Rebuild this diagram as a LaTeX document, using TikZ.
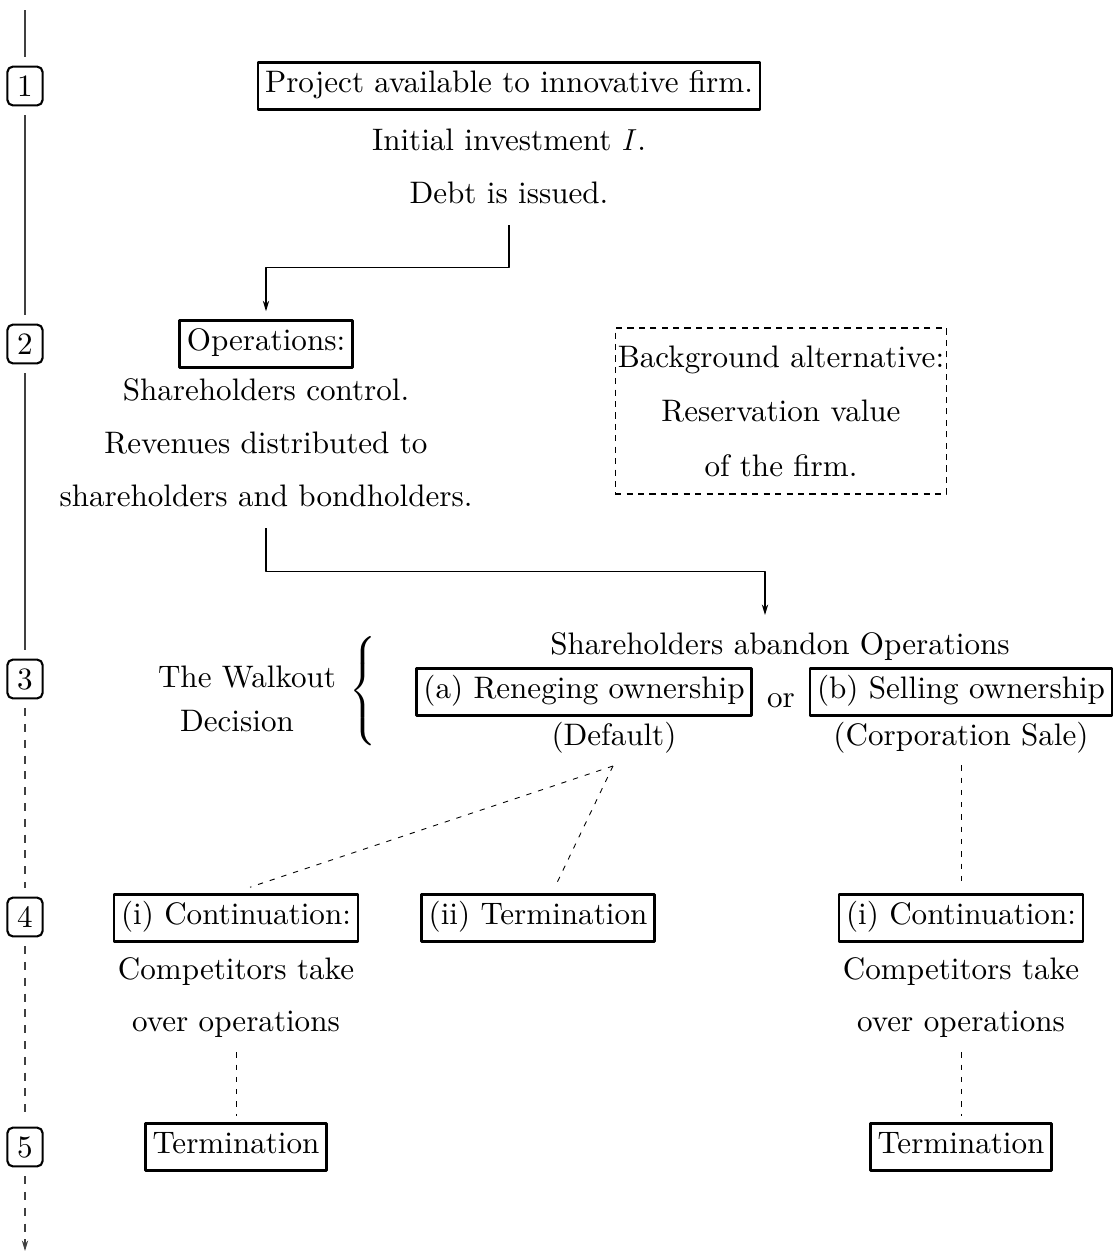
\documentclass[tikz,border=0pt]{standalone}
\usepackage{fontspec}
\setmainfont{lmroman10-regular}[Extension=.otf]
\usepackage{exscale}
\usetikzlibrary{arrows.meta}
\tikzset{
  box/.style={draw, line width=1.5pt, inner xsep=4pt, inner ysep=4.8pt, text height=12.3pt, text depth=5pt, yshift=-1.2pt},
  txt/.style={inner sep=0pt, text height=12.3pt, text depth=3.5pt, yshift=-1.7pt},
  stage/.style={draw, rounded corners=3pt, line width=1.2pt, inner sep=0pt, minimum width=20pt, minimum height=22pt},
  tl/.style={black!75, line width=0.6pt, shorten <=5pt, shorten >=5pt},
  conn/.style={line width=0.6pt},
  dconn/.style={line width=0.5pt, dash pattern=on 3pt off 4pt}
}
\begin{document}
\begin{tikzpicture}[x=0.02cm, y=-0.02cm, >={Stealth[length=6pt, width=3.6pt]}, line join=round, font=\fontsize{17.7}{31}\selectfont]
	\useasboundingbox (0,0) rectangle (1117,1251);
	% time line
	\coordinate (top) at (25,10);
	\coordinate (bot) at (25,1251);
	\node[stage] (t1) at (25,86) {1};
	\node[stage] (t2) at (25,344) {2};
	\node[stage] (t3) at (25,679) {3};
	\node[stage] (t4) at (25,917) {4};
	\node[stage] (t5) at (25,1147) {5};
	\draw[tl, shorten <=0pt] (top) -- (t1);
	\draw[tl] (t1) -- (t2);
	\draw[tl] (t2) -- (t3);
	\draw[tl, dash pattern=on 4.5pt off 4.5pt] (t3) -- (t4);
	\draw[tl, dash pattern=on 4.5pt off 4.5pt] (t4) -- (t5);
	\draw[tl, dash pattern=on 4.5pt off 4.5pt, shorten >=0pt, ->] (t5) -- (bot);
	% stage 1
	\node[box] (proj) at (509,84) {Project available to innovative firm.};
	\node[txt] (inv) at (509,140) {Initial investment $I$.};
	\node[txt] (debt) at (509,193) {Debt is issued.};
	% stage 2
	\node[box] (ops) at (266,342) {Operations:};
	\node[txt] (ctrl) at (266,390) {Shareholders control.};
	\node[txt] (rev1) at (266,443) {Revenues distributed to};
	\node[txt] (rev2) at (266,496) {shareholders and bondholders.};
	\node[draw, line width=0.6pt, dash pattern=on 3.5pt off 3pt, align=center, inner xsep=1.5pt, inner ysep=10pt] (bg) at (781,411)
		{Background alternative:\\Reservation value\\of the firm.};
	\draw[conn, ->, shorten >=4.5pt] (debt.south) ++(0,15) -- ++(0,42) -| (ops.north);
	% stage 3
	\node[txt] (abd) at (780,644) {Shareholders abandon Operations};
	\coordinate (abdin) at (765,615);
	\draw[conn, ->] (rev2.south) ++(0,15) -- ++(0,43) -| (abdin);
	\node[txt] (walk) at (247,677) {The Walkout};
	\node[txt] (dec) at (237,721) {Decision};
	\node[inner sep=0pt] (brc) at (364,693) {$\left\{\vrule height 29pt depth 29pt width 0pt\right.$};
	\node[box] (reneg) at (584,690) {(a) Reneging ownership};
	\node[txt] (or) at (781,697) {or};
	\node[box] (sell) at (961,690) {(b) Selling ownership};
	\node[txt] (dflt) at (614,735) {(Default)};
	\node[txt] (csale) at (961,735) {(Corporation Sale)};
	% stage 4
	\node[box] (cont1) at (236,916) {(i) Continuation:};
	\node[box] (term2) at (538,916) {(ii) Termination};
	\node[box] (cont2) at (961,916) {(i) Continuation:};
	\node[txt] (comp1) at (236,969) {Competitors take};
	\node[txt] (over1) at (236,1021) {over operations};
	\node[txt] (comp2) at (961,969) {Competitors take};
	\node[txt] (over2) at (961,1021) {over operations};
	\coordinate (split) at (613,766);
	\draw[dconn] (split) -- ([xshift=8pt, yshift=3.4pt]cont1.north);
	\draw[dconn] (split) -- ([xshift=9.6pt, yshift=3.4pt]term2.north);
	\draw[dconn, shorten <=7.4pt, shorten >=3.4pt] (csale.south) -- (cont2.north);
	% stage 5
	\node[box] (term1) at (236,1145) {Termination};
	\node[box] (term3) at (961,1145) {Termination};
	\draw[dconn, shorten <=8pt, shorten >=3.4pt] (over1.south) -- (term1.north);
	\draw[dconn, shorten <=8pt, shorten >=3.4pt] (over2.south) -- (term3.north);
\end{tikzpicture}
\end{document}
